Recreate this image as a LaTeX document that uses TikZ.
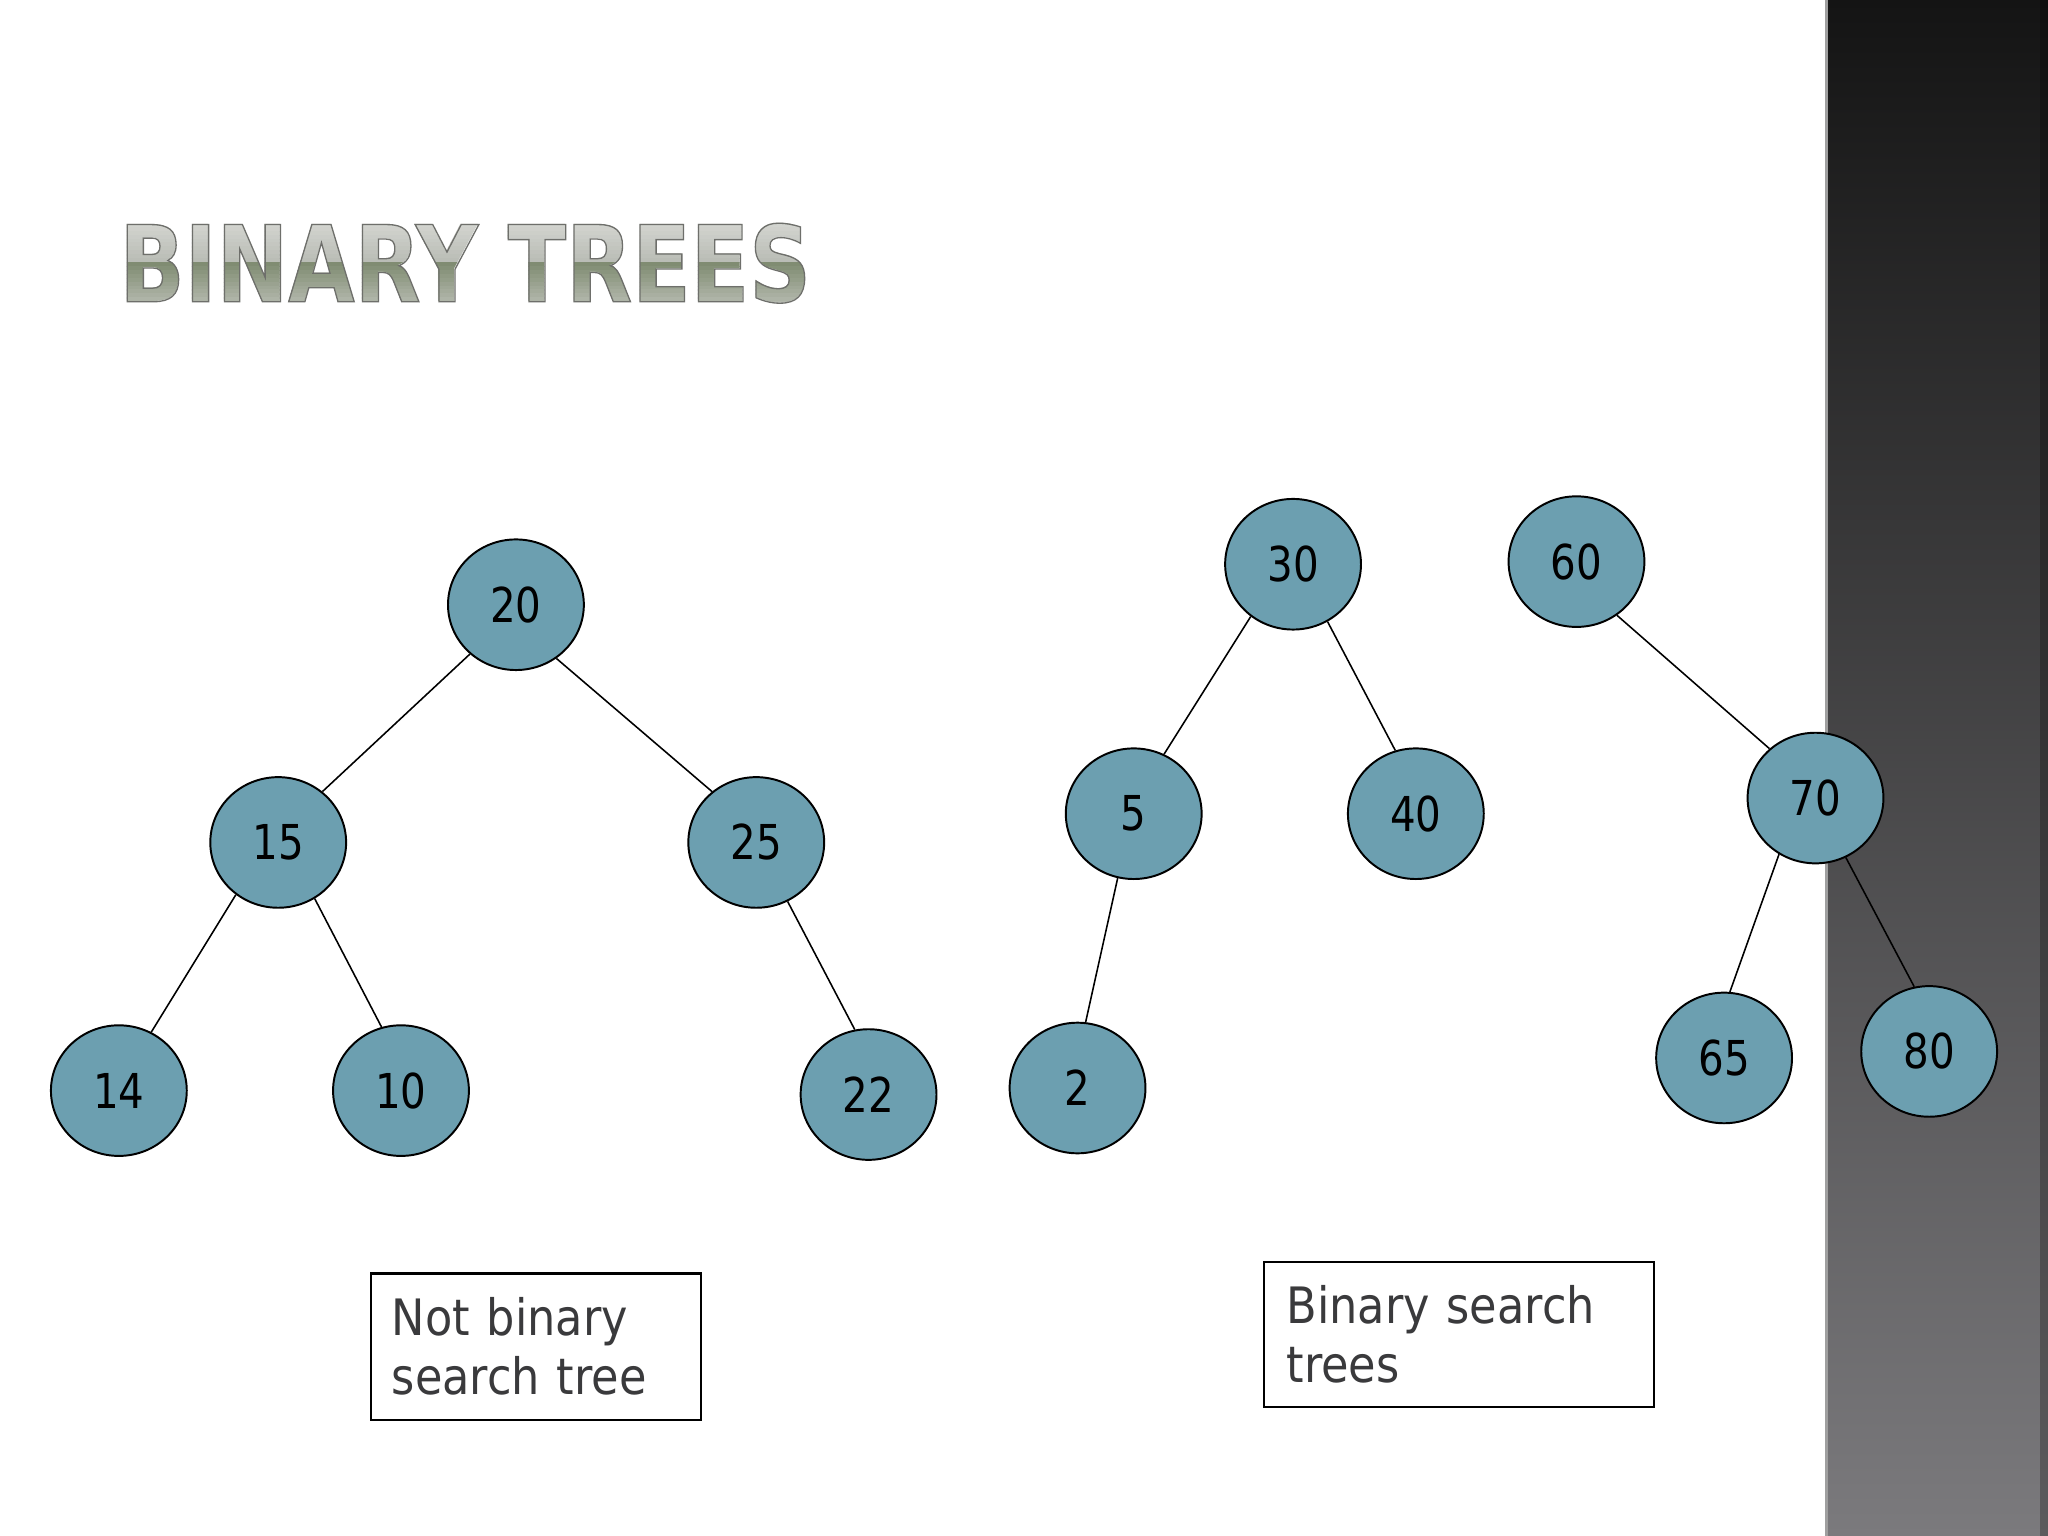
\documentclass[tikz,border=0pt]{standalone}
\usepackage{fontspec}
\usetikzlibrary{shapes.geometric}
\newfontfamily\numfont[FakeStretch=0.84]{DejaVu Sans}
\newfontfamily\txtfont[FakeStretch=0.89]{DejaVu Sans}
\newfontfamily\ttlfont[FakeStretch=0.81]{DejaVu Sans Bold}
\definecolor{nodefill}{RGB}{108,159,176}
\definecolor{boxtext}{RGB}{58,58,60}
\definecolor{paneltop}{RGB}{20,20,20}
\definecolor{panelbot}{RGB}{123,122,125}
\definecolor{ttop}{RGB}{216,217,213}
\definecolor{tmidA}{RGB}{186,189,182}
\definecolor{tmid}{RGB}{128,140,114}
\definecolor{tbot}{RGB}{194,197,190}
\definecolor{toutline}{RGB}{110,111,107}
\tikzset{
  tnode/.style={ellipse, draw=black, line width=0.75pt, fill=nodefill,
    minimum width=52pt, minimum height=50pt, inner sep=0pt,
    font=\numfont\fontsize{18.4}{20}\selectfont, text=black},
  edge/.style={draw=black, line width=0.6pt},
  labelbox/.style={draw=black, line width=0.8pt, fill=white, align=left,
    inner ysep=0pt, font=\txtfont\fontsize{19.2}{22.5}\selectfont, text=boxtext},
  titletext/.style={anchor=base west, inner sep=0pt,
    font=\ttlfont\fontsize{40.5}{44}\selectfont}
}
\begin{document}
\begin{tikzpicture}[x=0.5pt,y=-0.5pt]
\useasboundingbox (0,0) rectangle (1568,1176);
\fill[white] (0,0) rectangle (1568,1176);
% right panel
\shade[top color=paneltop, bottom color=panelbot] (1398,0) rectangle (1568,1176);
\fill[black, opacity=0.25] (1562,0) rectangle (1568,1176);
\draw[gray!75, line width=1pt] (1398.5,0) -- (1398.5,1176);
% title with banded gradient
\foreach \i in {0,...,11}{
  \pgfmathsetmacro\ya{165+3*\i}
  \pgfmathsetmacro\yb{\ya+3.3}
  \pgfmathtruncatemacro\p{100-\i*100/11}
  \begin{scope}
    \clip (80,\ya) rectangle (700,\yb);
    \node[titletext, text=ttop!\p!tmidA] (tu\i) at (91,231) {BINARY TREES};
  \end{scope}
}
\foreach \i in {0,...,13}{
  \pgfmathsetmacro\ya{201+3*\i}
  \pgfmathsetmacro\yb{\ya+3.3}
  \pgfmathtruncatemacro\p{100-\i*100/13}
  \begin{scope}
    \clip (80,\ya) rectangle (700,\yb);
    \node[titletext, text=tmid!\p!tbot] (tl\i) at (91,231) {BINARY TREES};
  \end{scope}
}
\node[titletext, text=toutline] (tout) at (91,231)
  {\special{pdf:code 1 Tr 0.5 w}BINARY TREES\special{pdf:code 0 Tr}};
% tree nodes
\node[tnode] (n20) at (395,463) {20};
\node[tnode] (n15) at (213,645) {15};
\node[tnode] (n25) at (579,645) {25};
\node[tnode] (n14) at (91,835) {14};
\node[tnode] (n10) at (307,835) {10};
\node[tnode] (n22) at (665,838) {22};
\node[tnode] (n30) at (990,432) {30};
\node[tnode] (n5) at (868,623) {5};
\node[tnode] (n40) at (1084,623) {40};
\node[tnode] (n2) at (825,833) {2};
\node[tnode] (n60) at (1207,430) {60};
\node[tnode] (n70) at (1390,611) {70};
\node[tnode] (n65) at (1320,810) {65};
\node[tnode] (n80) at (1477,805) {80};
% edges
\draw[edge] (n20.-133) -- (n15.49);
\draw[edge] (n20.-53) -- (n25.131);
\draw[edge] (n15.-129) -- (n14.61);
\draw[edge] (n15.-57) -- (n10.107);
\draw[edge] (n25.-62) -- (n22.102);
\draw[edge] (n30.-129) -- (n5.63);
\draw[edge] (n30.-59) -- (n40.108);
\draw[edge] (n5.-104) -- (n2.83);
\draw[edge] (n60.-53) -- (n70.133);
\draw[edge] (n70.-123) -- (n65.85);
\draw[edge] (n70.-63) -- (n80.103);
% label boxes
\node[labelbox, minimum width=126.5pt, minimum height=56pt, inner xsep=8pt,
  text width=110.5pt] (lbl1) at (410.5,1031) {Not binary\\search tree};
\node[labelbox, minimum width=149pt, minimum height=55.5pt, inner xsep=8.5pt,
  text width=132pt] (lbl2) at (1117,1021.5) {Binary search\\trees};
\end{tikzpicture}
\end{document}
